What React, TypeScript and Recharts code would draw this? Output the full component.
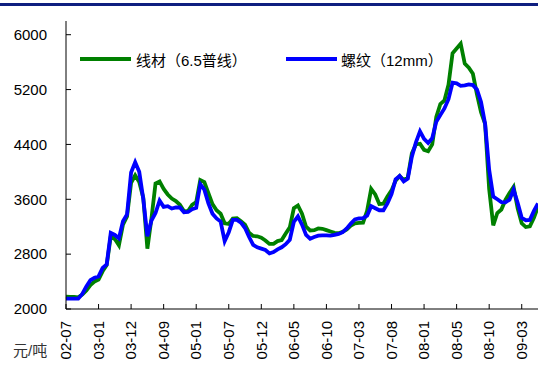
import React from 'react'
import { LineChart, Line, XAxis, YAxis } from 'recharts'

// month labels under every 8th point
const tickLabels = ['02-07', '03-01', '03-12', '04-09', '05-01', '05-07', '05-12', '06-05', '06-10', '07-03', '07-08', '08-01', '08-05', '08-10', '09-03']
const STEP = 8

// 线材（6.5普线）
const wire = [
  2180, 2175, 2175, 2170, 2210, 2270, 2350, 2400,
  2430, 2550, 2640, 3060, 3020, 2930, 3230, 3350,
  3840, 3950, 3850, 3620, 2880, 3320, 3830, 3860,
  3750, 3670, 3610, 3575, 3520, 3425, 3430, 3520,
  3560, 3880, 3850, 3690, 3530, 3440, 3390, 3250,
  3240, 3320, 3325, 3280, 3230, 3110, 3065, 3060,
  3040, 3000, 2950, 2950, 2990, 3005, 3100, 3190,
  3470, 3510, 3390, 3200, 3145, 3150, 3175, 3170,
  3150, 3130, 3110, 3105, 3125, 3160, 3215, 3250,
  3255, 3260, 3430, 3750, 3670, 3530, 3535, 3640,
  3730, 3870, 3940, 3880, 3920, 4270, 4400, 4410,
  4320, 4300, 4400, 4800, 4990, 5040, 5270, 5730,
  5800, 5870, 5580, 5520, 5430, 5130, 4870, 4700,
  3750, 3220, 3400, 3450, 3590, 3690, 3780, 3470,
  3250, 3195, 3205, 3330, 3490,
]

// 螺纹（12mm）
const rebar = [
  2150, 2150, 2150, 2150, 2220, 2330, 2420, 2455,
  2475, 2600, 2650, 3110, 3080, 3030, 3280, 3380,
  3990, 4140, 4000, 3600, 3060, 3290, 3400, 3580,
  3490, 3500, 3465, 3480, 3480, 3410, 3415, 3455,
  3475, 3820, 3740, 3540, 3390, 3320, 3275, 2990,
  3120, 3300, 3300, 3260, 3180, 3050, 2935, 2900,
  2880, 2860, 2810, 2830, 2870, 2900, 2945, 3010,
  3270, 3350, 3230, 3080, 3025, 3050, 3070, 3075,
  3075, 3070, 3080, 3095, 3120, 3175, 3245, 3305,
  3320, 3325, 3360, 3500, 3470, 3440, 3440, 3540,
  3675, 3890, 3940, 3860, 3900, 4220, 4430, 4590,
  4480, 4420, 4490, 4730, 4830, 4925, 5060, 5300,
  5290, 5255, 5260, 5275, 5265, 5200, 5020, 4700,
  4030, 3640, 3600, 3560, 3555, 3595, 3740, 3550,
  3330, 3295, 3300, 3430, 3540,
]

const yTicks = [2000, 2800, 3600, 4400, 5200, 6000]

const data = wire.map((w, i) => ({ idx: i, wire: w, rebar: rebar[i] }))
const xTicks = tickLabels.map((_, i) => i * STEP)

const FONT = "'Liberation Sans', Arial, 'Noto Sans CJK SC', sans-serif"
const GREEN = '#008000'
const BLUE = '#0000ff'

const YTick = ({ x, y, payload }: any) => (
  <g>
    <line x1={x} x2={x + 5} y1={y} y2={y} stroke="#000" />
    <text x={x - 19} y={y} dy="0.35em" textAnchor="end" fontSize={15} fill="#000" fontFamily={FONT}>
      {payload.value}
    </text>
  </g>
)

const XTick = ({ x, y, payload }: any) => {
  const label = tickLabels[Math.round(payload.value / STEP)] ?? ''
  return (
    <g>
      <line x1={x} x2={x} y1={y} y2={y - 5} stroke="#000" />
      <text
        transform={`translate(${x},${y + 12}) rotate(-90)`}
        dy="0.35em"
        textAnchor="end"
        fontSize={15}
        fill="#000"
        fontFamily={FONT}
      >
        {label}
      </text>
    </g>
  )
}

const LegendBox = () => (
  <div
    style={{
      position: 'absolute', left: 80, top: 49, height: 20,
      display: 'flex', alignItems: 'center', fontFamily: FONT, fontSize: 15, color: '#000',
    }}
  >
    <div style={{ display: 'flex', alignItems: 'center', width: 206 }}>
      <span style={{ display: 'inline-block', width: 51, height: 4, background: GREEN, marginRight: 5 }} />
      <span>线材（6.5普线）</span>
    </div>
    <div style={{ display: 'flex', alignItems: 'center' }}>
      <span style={{ display: 'inline-block', width: 51, height: 4, background: BLUE, marginRight: 4 }} />
      <span>螺纹（12mm）</span>
    </div>
  </div>
)

export default function App() {
  return (
    <div style={{ position: 'relative', width: 538, height: 365, overflow: 'hidden', background: '#fff' }}>
      <style>{`body{margin:0}`}</style>
      <div style={{ position: 'absolute', left: 0, top: 3, width: 538, height: 3, background: '#0f1f80' }} />
      <LineChart width={538} height={365} data={data} margin={{ top: 21, right: 0, left: 0, bottom: 0 }}>
        <XAxis
          dataKey="idx"
          type="number"
          domain={[0, 116]}
          ticks={xTicks}
          interval={0}
          height={56}
          tickSize={0}
          tickMargin={0}
          tickLine={false}
          axisLine={{ stroke: '#000' }}
          tick={<XTick />}
        />
        <YAxis
          domain={[2000, 6200]}
          ticks={yTicks}
          interval={0}
          width={66}
          tickSize={0}
          tickMargin={0}
          tickLine={false}
          axisLine={{ stroke: '#000' }}
          tick={<YTick />}
          allowDataOverflow
        />
        <Line type="linear" dataKey="wire" stroke={GREEN} strokeWidth={3.8} dot={false} isAnimationActive={false} />
        <Line type="linear" dataKey="rebar" stroke={BLUE} strokeWidth={3.8} dot={false} isAnimationActive={false} />
      </LineChart>
      <LegendBox />
      <div style={{ position: 'absolute', left: 13, top: 339, fontFamily: FONT, fontSize: 15, color: '#333' }}>元/吨</div>
    </div>
  )
}
